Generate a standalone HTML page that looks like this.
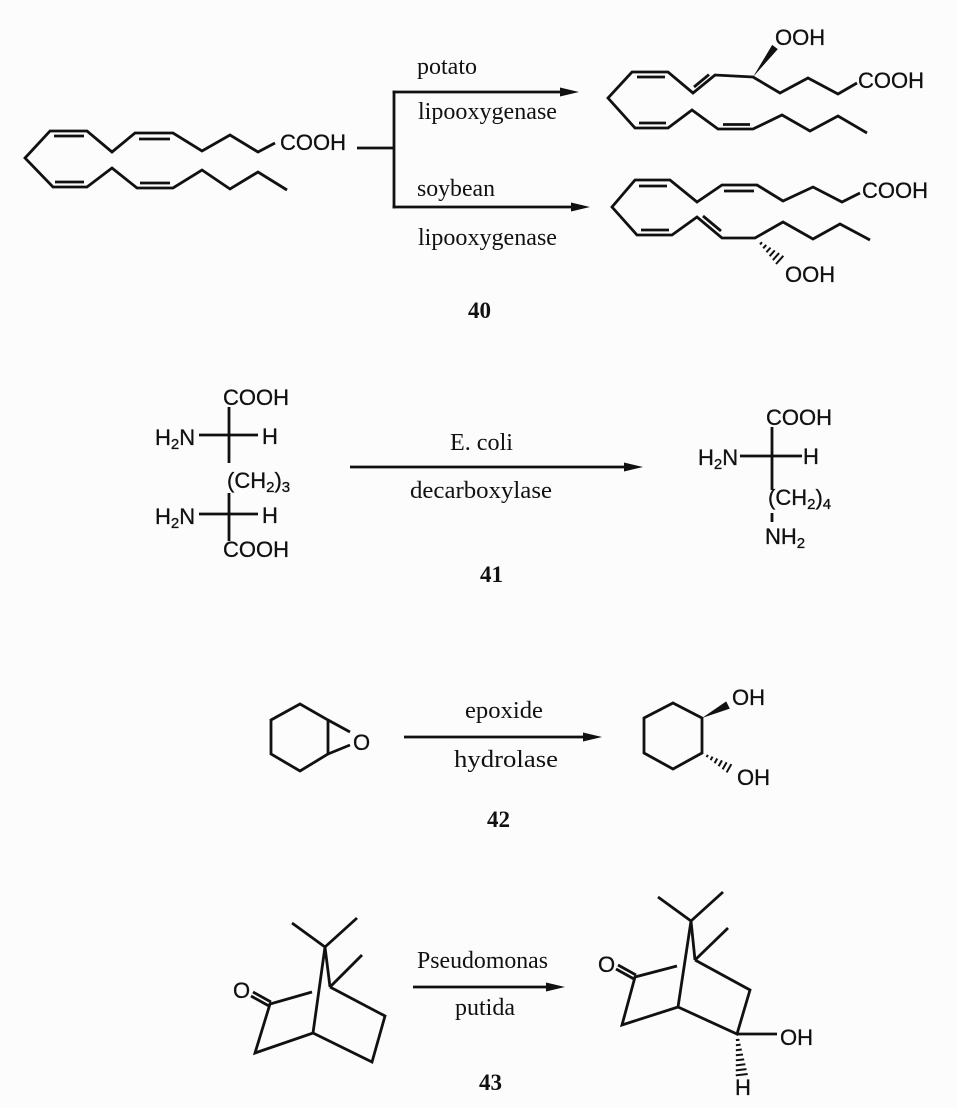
<!DOCTYPE html>
<html><head><meta charset="utf-8">
<style>
html,body{margin:0;padding:0;background:#fcfcfc;}
svg{display:block;}
.b{stroke:#111;stroke-width:2.8;fill:none;stroke-linejoin:miter;stroke-linecap:butt;}
.h{stroke:#111;stroke-width:2;fill:none;}
.s{font-family:"Liberation Sans",Arial,sans-serif;font-size:22px;fill:#111;stroke:#111;stroke-width:0.3;}
.r{font-family:"Liberation Serif","Times New Roman",serif;font-size:24px;fill:#111;}
.n{font-family:"Liberation Serif","Times New Roman",serif;font-size:23px;font-weight:bold;fill:#111;}
.sub{font-size:15px;}
</style></head>
<body>
<svg width="958" height="1108" viewBox="0 0 958 1108" xmlns="http://www.w3.org/2000/svg">
<rect width="958" height="1108" fill="#fcfcfc"/>

<!-- ===== 40 : substrate ===== -->
<polyline class="b" points="275,143 258,152 230,135 202,151 173,133 135,133 112,152 87,131 50,131 25,158 53,187 87,187 112,168 137,188 173,188 202,170 230,189 258,172 287,190"/>
<line class="b" x1="54" y1="136" x2="84" y2="136"/>
<line class="b" x1="139" y1="139" x2="170" y2="139"/>
<line class="b" x1="55" y1="182" x2="84" y2="182"/>
<line class="b" x1="140" y1="183" x2="170" y2="183"/>
<text class="s" x="280" y="150">COOH</text>

<!-- branch arrows -->
<line class="b" x1="357" y1="148" x2="394" y2="148"/>
<line class="b" x1="394" y1="90.6" x2="394" y2="208.4"/>
<line class="b" x1="392.6" y1="92" x2="566" y2="92"/>
<polygon points="579,92 560,87.5 560,96.5" fill="#111"/>
<line class="b" x1="392.6" y1="207" x2="577" y2="207"/>
<polygon points="590,207 571,202.5 571,211.5" fill="#111"/>
<text class="r" x="417" y="74" textLength="60" lengthAdjust="spacingAndGlyphs">potato</text>
<text class="r" x="418" y="119" textLength="139" lengthAdjust="spacingAndGlyphs">lipooxygenase</text>
<text class="r" x="417" y="196" textLength="78" lengthAdjust="spacingAndGlyphs">soybean</text>
<text class="r" x="418" y="245" textLength="139" lengthAdjust="spacingAndGlyphs">lipooxygenase</text>

<!-- product top -->
<polyline class="b" points="857,83 838,94 808,78 780,93 753,77 715,75 693,93 668,72 632,72 608,98 635,128 668,128 692,110 718,129 753,129 782,115 810,131 838,116 867,133"/>
<line class="b" x1="637" y1="77" x2="665" y2="77"/>
<line class="b" x1="694" y1="87" x2="709" y2="74.6"/>
<line class="b" x1="639" y1="123" x2="666" y2="123"/>
<line class="b" x1="723" y1="124.5" x2="750" y2="124.5"/>
<polygon points="753,77 772.2,44.9 777.8,49.1" fill="#111"/>
<text class="s" x="775" y="45">OOH</text>
<text class="s" x="858" y="88">COOH</text>

<!-- product bottom -->
<polyline class="b" points="860,193 842,202 813,187 783,201 757,185 722,185 697,202 670,180 635,180 612,207 637,235 672,235 697,217 722,238 755,238 783,222 813,239 840,224 870,240"/>
<line class="b" x1="639" y1="186" x2="667" y2="186"/>
<line class="b" x1="724" y1="191" x2="754" y2="191"/>
<line class="b" x1="641" y1="230" x2="669" y2="230"/>
<line class="b" x1="703" y1="216" x2="721" y2="231"/>
<g transform="translate(755,238) rotate(41.6)">
<line class="h" x1="8" y1="-1.5" x2="8" y2="1.5"/>
<line class="h" x1="13" y1="-2.3" x2="13" y2="2.3"/>
<line class="h" x1="18" y1="-3.1" x2="18" y2="3.1"/>
<line class="h" x1="23" y1="-3.9" x2="23" y2="3.9"/>
<line class="h" x1="28" y1="-4.7" x2="28" y2="4.7"/>
<line class="h" x1="33" y1="-5.5" x2="33" y2="5.5"/>
</g>
<text class="s" x="785" y="282">OOH</text>
<text class="s" x="862" y="198">COOH</text>

<text class="n" x="468" y="318">40</text>

<!-- ===== 41 ===== -->
<text class="s" x="223" y="405">COOH</text>
<line class="b" x1="229" y1="407" x2="229" y2="463"/>
<line class="b" x1="199" y1="435" x2="258" y2="435"/>
<text class="s" x="155" y="445">H<tspan class="sub" dy="4">2</tspan><tspan dy="-4">N</tspan></text>
<text class="s" x="262" y="444">H</text>
<text class="s" x="227" y="488">(CH<tspan class="sub" dy="4">2</tspan><tspan dy="-4">)</tspan><tspan class="sub" dy="4">3</tspan></text>
<line class="b" x1="229" y1="493" x2="229" y2="541"/>
<line class="b" x1="199" y1="514" x2="258" y2="514"/>
<text class="s" x="155" y="524">H<tspan class="sub" dy="4">2</tspan><tspan dy="-4">N</tspan></text>
<text class="s" x="262" y="523">H</text>
<text class="s" x="223" y="557">COOH</text>

<line class="b" x1="350" y1="467" x2="630" y2="467"/>
<polygon points="643,467 624,462.5 624,471.5" fill="#111"/>
<text class="r" x="450" y="450" textLength="63" lengthAdjust="spacingAndGlyphs">E. coli</text>
<text class="r" x="410" y="498" textLength="142" lengthAdjust="spacingAndGlyphs">decarboxylase</text>

<text class="s" x="766" y="425">COOH</text>
<line class="b" x1="772" y1="427" x2="772" y2="490"/>
<line class="b" x1="740" y1="456" x2="802" y2="456"/>
<text class="s" x="698" y="465">H<tspan class="sub" dy="4">2</tspan><tspan dy="-4">N</tspan></text>
<text class="s" x="803" y="464">H</text>
<text class="s" x="768" y="505">(CH<tspan class="sub" dy="4">2</tspan><tspan dy="-4">)</tspan><tspan class="sub" dy="4">4</tspan></text>
<line class="b" x1="772" y1="513" x2="772" y2="522"/>
<text class="s" x="765" y="544">NH<tspan class="sub" dy="4">2</tspan></text>

<text class="n" x="480" y="582">41</text>

<!-- ===== 42 ===== -->
<polygon class="b" points="300,704 328,720 328,754 300,771 271,754 271,720"/>
<line class="b" x1="328" y1="720" x2="350" y2="732"/>
<line class="b" x1="328" y1="754" x2="350" y2="745"/>
<text class="s" x="353" y="750">O</text>

<line class="b" x1="404" y1="737" x2="589" y2="737"/>
<polygon points="602,737 583,732.5 583,741.5" fill="#111"/>
<text class="r" x="465" y="718" textLength="78" lengthAdjust="spacingAndGlyphs">epoxide</text>
<text class="r" x="454" y="767" textLength="104" lengthAdjust="spacingAndGlyphs">hydrolase</text>

<polygon class="b" points="673,703 702,718 702,753 673,769 644,753 644,718"/>
<polygon points="702,718 726.2,701.4 729.8,708.6" fill="#111"/>
<g transform="translate(702,753) rotate(29.5)">
<line class="h" x1="6" y1="-1.3" x2="6" y2="1.3"/>
<line class="h" x1="11" y1="-2" x2="11" y2="2"/>
<line class="h" x1="16" y1="-2.7" x2="16" y2="2.7"/>
<line class="h" x1="21" y1="-3.4" x2="21" y2="3.4"/>
<line class="h" x1="26" y1="-4.1" x2="26" y2="4.1"/>
<line class="h" x1="31" y1="-4.8" x2="31" y2="4.8"/>
</g>
<text class="s" x="732" y="705">OH</text>
<text class="s" x="737" y="785">OH</text>

<text class="n" x="487" y="827">42</text>

<!-- ===== 43 ===== -->
<line class="b" x1="292" y1="923" x2="325" y2="947"/>
<line class="b" x1="357" y1="918" x2="325" y2="947"/>
<line class="b" x1="325" y1="947" x2="330" y2="987"/>
<line class="b" x1="325" y1="947" x2="313" y2="1033"/>
<line class="b" x1="330" y1="987" x2="362" y2="955"/>
<polyline class="b" points="312,992 270,1004 255,1053 313,1033 372,1062 385,1016 330,987"/>
<line class="b" x1="271" y1="1002" x2="253" y2="992"/>
<line class="b" x1="269" y1="1006" x2="251" y2="996"/>
<text class="s" x="233" y="998">O</text>

<line class="b" x1="413" y1="987" x2="552" y2="987"/>
<polygon points="565,987 546,982.5 546,991.5" fill="#111"/>
<text class="r" x="417" y="968" textLength="131" lengthAdjust="spacingAndGlyphs">Pseudomonas</text>
<text class="r" x="455" y="1015" textLength="60" lengthAdjust="spacingAndGlyphs">putida</text>

<line class="b" x1="658" y1="897" x2="691" y2="921"/>
<line class="b" x1="723" y1="892" x2="691" y2="921"/>
<line class="b" x1="691" y1="921" x2="695" y2="960"/>
<line class="b" x1="691" y1="921" x2="678" y2="1007"/>
<line class="b" x1="695" y1="960" x2="728" y2="928"/>
<polyline class="b" points="677,966 635,977 622,1025 678,1007 737,1034 750,990 695,960"/>
<line class="b" x1="636" y1="975" x2="618" y2="965"/>
<line class="b" x1="634" y1="979" x2="616" y2="969"/>
<text class="s" x="598" y="972">O</text>
<line class="b" x1="737" y1="1034" x2="777" y2="1034"/>
<text class="s" x="780" y="1045">OH</text>
<g transform="translate(737,1034) rotate(83.4)">
<line class="h" x1="6" y1="-1.8" x2="6" y2="1.8"/>
<line class="h" x1="11" y1="-2.4" x2="11" y2="2.4"/>
<line class="h" x1="16" y1="-3" x2="16" y2="3"/>
<line class="h" x1="21" y1="-3.6" x2="21" y2="3.6"/>
<line class="h" x1="26" y1="-4.2" x2="26" y2="4.2"/>
<line class="h" x1="31" y1="-4.8" x2="31" y2="4.8"/>
<line class="h" x1="36" y1="-5.4" x2="36" y2="5.4"/>
<line class="h" x1="41" y1="-6" x2="41" y2="6"/>
</g>
<text class="s" x="735" y="1095">H</text>

<text class="n" x="479" y="1090">43</text>
</svg>
</body></html>
